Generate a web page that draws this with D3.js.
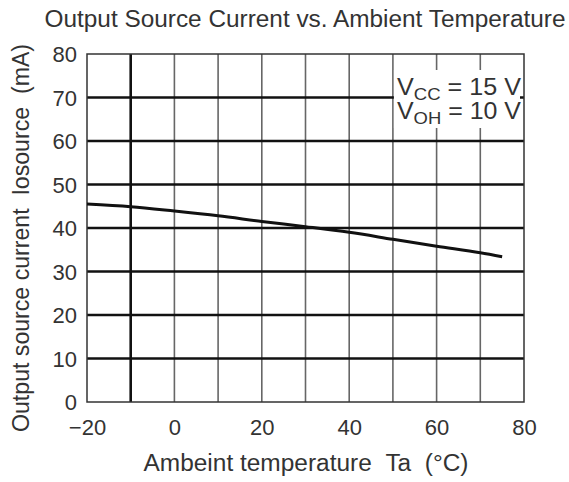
<!DOCTYPE html>
<html><head><meta charset="utf-8">
<script src="https://cdn.jsdelivr.net/npm/d3@7"></script>
<style>body{margin:0;background:#fff}svg{display:block}text{font-family:"Liberation Sans",Arial,sans-serif;fill:#333}</style>
</head><body><svg id="c" width="569" height="482"></svg>
<script>
const temps = [-20, -10, 0, 10, 20, 30, 40, 50, 60, 70, 75];
const current = [45.5, 44.9, 43.9, 42.8, 41.5, 40.3, 39.0, 37.4, 35.8, 34.3, 33.4];
const xTicks = [-20, 0, 20, 40, 60, 80];
const yTicks = [0, 10, 20, 30, 40, 50, 60, 70, 80];
const xGrid = [-10, 0, 10, 20, 30, 40, 50, 60, 70];
const yGrid = [10, 20, 30, 40, 50, 60, 70];
const title = "Output Source Current vs. Ambient Temperature";
const xTitle = "Ambeint temperature\u00a0\u00a0Ta\u00a0\u00a0(°C)";
const yTitle = "Output source current\u00a0\u00a0Iosource\u00a0\u00a0(mA)";

const svg = d3.select("#c");
const x = d3.scaleLinear().domain([-20, 80]).range([87, 524]);
const y = d3.scaleLinear().domain([0, 80]).range([402, 54]);

// vertical grid
svg.append("g").selectAll("line").data(xGrid).join("line")
  .attr("x1", d => x(d)).attr("x2", d => x(d))
  .attr("y1", y(80)).attr("y2", y(0))
  .attr("stroke", d => d === -10 ? "#111" : "#666")
  .attr("stroke-width", d => d === -10 ? 2.6 : 1.6);
// horizontal grid
svg.append("g").selectAll("line").data(yGrid).join("line")
  .attr("x1", x(-20)).attr("x2", x(80))
  .attr("y1", d => y(d)).attr("y2", d => y(d))
  .attr("stroke", "#111").attr("stroke-width", 2.4);
// legend blank area
svg.append("rect").attr("x", x(50) + 1).attr("y", 70)
  .attr("width", x(80) - x(50) - 5).attr("height", 58).attr("fill", "#fff");
// border
svg.append("rect").attr("x", x(-20)).attr("y", y(80))
  .attr("width", x(80) - x(-20)).attr("height", y(0) - y(80))
  .attr("fill", "none").attr("stroke", "#333").attr("stroke-width", 1.5);

// data line
svg.append("path").datum(temps.map((t, i) => [t, current[i]]))
  .attr("d", d3.line().x(d => x(d[0])).y(d => y(d[1])).curve(d3.curveMonotoneX))
  .attr("fill", "none").attr("stroke", "#111").attr("stroke-width", 3);

const FF = "Liberation Sans, Arial, sans-serif";
// axes labels
const yAxis = svg.append("g").attr("transform", `translate(${x(-20) - 10},0)`)
  .call(d3.axisLeft(y).tickValues(yTicks).tickSize(0).tickPadding(0));
yAxis.select(".domain").remove();
yAxis.selectAll("text").attr("font-size", 22).attr("fill", "#333").attr("font-family", FF).attr("dy", "0.36em");

const xAxis = svg.append("g").attr("transform", `translate(0,${y(0) + 17})`)
  .call(d3.axisBottom(x).tickValues(xTicks).tickSize(0).tickPadding(0)
    .tickFormat(d => d < 0 ? "\u2212" + Math.abs(d) : d));
xAxis.select(".domain").remove();
xAxis.selectAll("text").attr("font-size", 22).attr("fill", "#333").attr("font-family", FF).attr("dy", "0.71em");

// titles
svg.append("text").attr("x", 305).attr("y", 27).attr("text-anchor", "middle")
  .attr("font-size", 23).attr("textLength", 521).attr("lengthAdjust", "spacingAndGlyphs").text(title);
svg.append("text").attr("x", 306).attr("y", 471).attr("text-anchor", "middle")
  .attr("font-size", 23).attr("textLength", 325).attr("lengthAdjust", "spacingAndGlyphs").text(xTitle);
svg.append("text").attr("transform", "translate(29,238) rotate(-90)").attr("text-anchor", "middle")
  .attr("font-size", 23).attr("textLength", 388).attr("lengthAdjust", "spacingAndGlyphs").text(yTitle);

// legend
const leg = [["CC", "= 15 V", 95], ["OH", "= 10 V", 119]];
leg.forEach(([sub, rest, by]) => {
  const t = svg.append("text").attr("x", 397).attr("y", by).attr("font-size", 23)
    .attr("textLength", 124).attr("lengthAdjust", "spacingAndGlyphs");
  t.append("tspan").text("V");
  t.append("tspan").attr("font-size", 17).attr("dy", 5).text(sub);
  t.append("tspan").attr("dy", -5).text(" " + rest);
});
</script></body></html>
